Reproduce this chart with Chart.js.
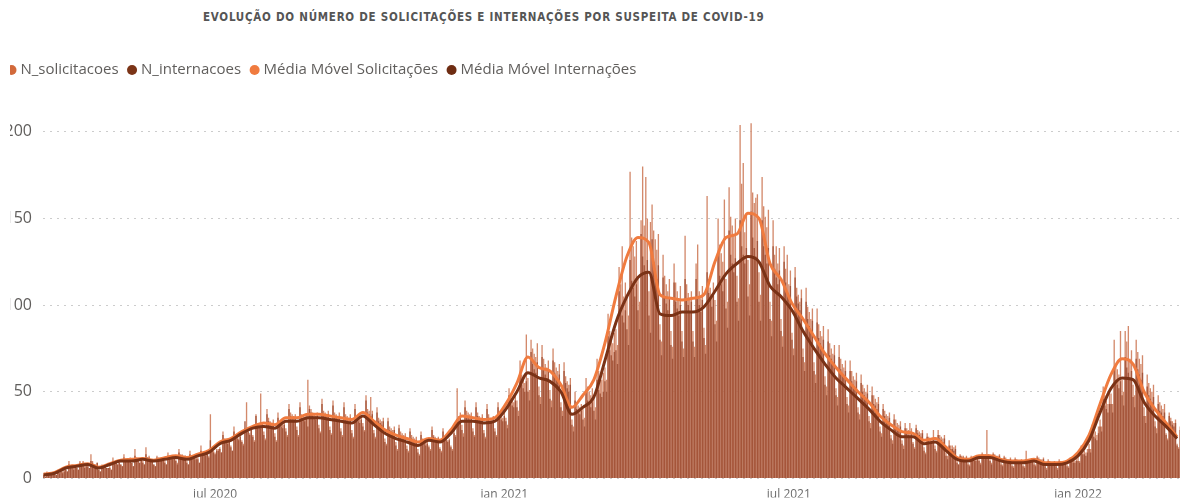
<!DOCTYPE html>
<html><head><meta charset="utf-8">
<script src="https://cdn.jsdelivr.net/npm/chart.js@4"></script>
<style>
html,body{margin:0;padding:0;background:#fff;overflow:hidden;width:1180px;height:499px}
#title{position:absolute;left:203px;top:11px;font-family:'DejaVu Sans Condensed','DejaVu Sans',sans-serif;font-weight:bold;font-size:11.5px;line-height:13px;letter-spacing:0.75px;color:#555;white-space:nowrap}
#wrap{position:absolute;left:-2px;top:0;width:1183px;height:499px}
#mask{position:absolute;left:0;top:40px;width:10px;height:420px;background:#fff}
</style></head><body>
<div id="title">EVOLUÇÃO DO NÚMERO DE SOLICITAÇÕES E INTERNAÇÕES POR SUSPEITA DE COVID-19</div>
<div id="wrap"><canvas id="c" width="1183" height="499"></canvas></div>
<div id="mask"></div>
<script>
// ---- data ----
const startDate = '2020-03-14';
const seriesNames = ['N_solicitacoes', 'N_internacoes', 'Média Móvel Solicitações', 'Média Móvel Internações'];
const tickDates = ['2020-07-01', '2021-01-01', '2021-07-01', '2022-01-01'];
const tickLabels = ['jul 2020', 'jan 2021', 'jul 2021', 'jan 2022'];
const yTicks = [0, 50, 100, 150, 200];

// daily requests (N_solicitacoes)
const nSolicitacoes = [
3,1,4,2,3,3,2, 3,2,5,3,4,4,5, 5,4,10,6,8,6,7, 6,5,10,8,10,7,7, 7,6,14,10,8,8,9, 5,4,8,7,7,6,6, 7,5,12,9,10,8,9,
8,7,14,11,11,10,12, 9,7,17,12,11,9,12, 10,8,18,12,13,11,11, 8,7,13,12,11,10,12, 10,8,15,13,13,12,13, 11,9,17,14,14,13,13, 10,8,16,13,13,12,12,
12,9,19,15,15,14,14, 13,37,18,16,15,17,17, 18,15,27,23,22,21,22, 19,16,30,25,24,23,25, 22,20,29,44,28,26,29, 25,22,37,32,31,49,32, 27,23,40,35,33,32,34,
26,22,38,33,32,31,33, 29,25,43,38,37,36,37, 30,25,44,37,36,35,37, 57,42,40,38,37,36,38, 31,27,46,39,38,37,39, 30,26,45,38,37,36,38, 29,25,44,37,36,35,37,
28,24,43,36,35,34,36, 32,28,48,40,39,47,39, 28,24,41,35,34,33,35, 23,20,35,30,29,28,30, 21,17,31,27,26,25,26, 19,16,29,25,24,23,24, 17,14,27,23,22,21,22,
19,17,30,25,24,23,24, 18,16,29,24,23,22,23, 19,17,28,25,52,36,38, 31,26,45,39,38,37,38, 29,25,44,38,36,35,37, 28,24,43,37,35,34,36, 29,25,44,38,36,35,38,
35,31,52,47,45,44,48, 45,39,68,60,57,55,83, 58,51,80,75,72,70,78, 53,47,77,69,66,64,68, 51,45,75,67,64,62,66, 44,39,67,59,56,54,58, 34,30,50,44,42,41,43,
40,35,58,53,50,48,52, 47,41,69,62,59,57,61, 64,57,95,85,82,78,84, 86,77,122,112,134,105,113, 105,94,177,139,134,128,137, 115,102,149,180,146,174,150, 108,148,158,143,138,132,141,
89,79,129,117,112,108,115, 85,76,124,113,108,104,111, 85,75,140,112,107,103,108, 85,76,124,135,108,104,111, 87,77,163,115,110,106,113, 103,91,150,135,130,125,161, 115,102,168,151,146,140,150,
117,104,204,170,182,142,152, 126,112,205,165,159,162,164, 119,106,174,157,151,145,155, 102,91,149,129,134,124,133, 92,82,134,121,129,112,120, 84,75,122,110,106,102,109, 75,67,110,99,96,92,98,
67,60,98,89,85,82,88, 59,53,86,78,75,72,77, 52,47,77,69,66,64,68, 47,42,68,62,59,57,61, 41,37,60,54,52,50,54, 36,32,53,48,46,44,47, 30,26,43,39,37,36,38,
25,22,37,34,32,31,33, 22,19,32,29,28,32,29, 21,18,31,28,27,26,28, 18,15,26,24,23,22,28, 19,16,28,25,24,23,25, 15,13,22,19,19,18,19, 10,8,14,13,13,12,13,
9,8,13,12,11,11,12, 11,9,15,14,14,28,14, 11,9,15,14,13,13,14, 9,8,13,12,11,11,12, 8,7,12,11,10,10,11, 8,7,16,11,10,10,11, 9,8,13,12,11,11,12,
8,6,11,10,9,9,10, 8,6,11,10,9,9,10, 8,7,12,11,10,10,11, 12,10,19,17,16,15,17, 20,17,31,28,27,25,30, 34,30,53,48,45,43,49, 49,43,80,66,63,60,85,
57,50,85,79,88,69,74, 54,48,80,73,69,66,71, 41,36,60,55,52,50,54, 33,29,48,44,42,40,43, 26,23,38,35,33,32,34, 20,18,30
];

// daily admissions (N_internacoes)
const nInternacoes = [
2,1,3,2,3,2,2, 2,2,4,3,4,3,4, 5,4,8,6,7,5,7, 6,5,9,8,9,6,7, 7,6,10,9,8,7,9, 5,4,7,6,7,6,6, 6,5,10,9,9,8,9,
8,7,12,11,10,10,11, 9,7,13,11,10,9,11, 9,8,14,12,12,11,11, 8,7,12,11,11,10,11, 9,8,13,12,12,11,12, 10,8,15,13,13,12,13, 9,8,14,12,12,11,11,
11,9,16,14,14,13,14, 12,22,17,15,14,16,16, 17,15,25,22,21,20,21, 18,16,27,24,23,22,24, 21,19,33,28,27,25,28, 24,21,36,31,30,29,31, 25,22,37,33,31,30,32,
24,21,35,31,30,29,31, 27,24,40,36,35,34,35, 28,24,41,35,34,33,35, 30,40,38,36,35,34,36, 29,26,43,37,36,35,37, 28,25,42,36,35,34,36, 27,24,41,35,34,33,35,
26,23,40,34,33,32,34, 30,27,45,38,37,36,37, 26,23,38,33,32,31,33, 21,19,33,28,27,26,28, 19,16,29,25,24,23,24, 17,15,27,23,22,21,22, 15,13,25,21,20,19,20,
18,16,28,24,23,22,23, 17,15,27,23,22,21,22, 18,16,26,24,34,32,35, 28,24,41,36,35,34,35, 27,24,41,36,34,33,35, 26,23,40,35,33,32,34, 27,24,41,36,34,33,36,
33,29,48,43,42,41,45, 41,36,61,54,52,50,56, 50,45,73,66,63,61,67, 48,43,70,63,60,58,62, 46,41,68,61,58,56,60, 41,36,62,55,52,50,54, 31,27,45,40,38,37,39,
34,30,50,45,43,41,44, 39,34,57,51,49,47,50, 56,50,82,74,71,68,73, 74,66,108,98,94,90,97, 86,77,126,114,110,105,112, 97,86,141,128,123,118,126, 94,84,138,125,120,115,123,
80,71,116,105,101,97,104, 77,69,113,102,98,94,100, 79,70,115,104,100,96,102, 79,70,115,104,100,96,103, 81,72,119,107,103,99,106, 89,79,130,117,112,108,116, 98,87,143,129,124,119,127,
102,91,149,134,129,124,133, 105,94,154,139,133,128,137, 102,91,149,134,129,124,133, 92,82,134,121,116,112,120, 85,76,125,113,108,104,111, 80,71,116,105,101,97,104, 70,62,102,92,88,85,91,
62,55,90,81,78,75,80, 54,48,79,71,69,66,71, 48,42,70,63,60,58,62, 43,38,62,56,54,52,56, 38,34,55,50,48,46,49, 33,29,48,43,42,40,43, 27,24,40,36,34,33,35,
23,20,34,30,29,28,30, 20,17,29,26,25,24,26, 20,17,29,26,25,24,26, 16,14,24,22,21,20,22, 17,15,25,23,22,21,23, 13,11,19,17,17,16,17, 9,8,13,12,12,11,12,
8,7,12,11,10,10,11, 10,8,14,13,13,12,13, 10,8,14,13,12,12,13, 8,7,12,11,10,10,11, 7,6,11,10,9,9,10, 7,6,11,10,9,9,10, 8,7,12,11,10,10,11,
7,5,10,9,8,8,9, 7,5,10,9,8,8,9, 7,6,11,10,9,9,10, 10,9,16,14,14,13,15, 17,15,27,24,23,22,26, 30,27,46,42,40,38,43, 43,38,63,57,54,52,56,
48,42,70,64,61,58,62, 47,41,69,63,60,57,61, 36,32,53,48,46,44,47, 30,26,43,39,38,36,38, 25,22,36,33,31,30,32, 19,17,28
];

// moving averages, one value per week (start of each week from startDate)
const mmSolicitacoes = [
2.5,3.5,6.5,7.5,8.5,6.5,8.5,10.5,11,11.5, 10.5,12,13,12,14,16,21,23,27,30,
32,31,35,35,37,37,36,35,34,38, 33,28,25,23,21,23,22,28,36,35,
34,35,43,55,70,64,62,54,41,48, 57,78,105,128,139,136,106,104,103,104,
106,125,139,141,153,150,124,115,101,92, 82,72,64,57,50,44,36,31,27,26,
22,23,18,12,11,13,13,11,10,10, 11,9,9,10,15,25,43,60,69,66, 50,40,32,24
];
const mmInternacoes = [
2,3,6,7,8,6,8,10,10,11, 10,11,12,11,13,15,20,22,26,29,
30,29,33,33,35,35,34,33,32,36, 31,26,23,21,19,22,21,26,33,33,
32,33,40,50,61,58,56,50,37,41, 47,68,90,105,116,119,95,94,96,96,
99,108,118,124,128,125,111,105,97,85, 75,66,58,52,46,40,33,28,24,24,
20,21,16,11,10,12,12,10,9,9, 10,8,8,9,13,22,38,52,58,57, 44,36,30,23
];

// ---- styles ----
const barColors = ['#d3896b', '#a4553a'];
const lineColors = ['#f07b3f', '#7a3216'];
const legendColors = ['#d2693a', '#7b3417', '#f07b3f', '#6e2c12'];

// ---- build ----
const t0 = new Date(startDate + 'T00:00:00Z').getTime();
const labels = nSolicitacoes.map((_, i) => new Date(t0 + i * 86400000).toISOString().slice(0, 10));
const weekly = arr => arr.map((v, k) => ({ x: labels[Math.min(7 * k, labels.length - 1)], y: v }));

const legendSpacer = {
  id: 'legendSpacer',
  beforeInit(chart) {
    const fit = chart.legend.fit;
    chart.legend.fit = function () { fit.call(this); this.height += 27; };
  }
};

new Chart(document.getElementById('c'), {
  data: {
    labels,
    datasets: [
      { type: 'bar', label: seriesNames[0], data: nSolicitacoes, backgroundColor: barColors[0], grouped: false, order: 3, barPercentage: 1, categoryPercentage: 0.85 },
      { type: 'bar', label: seriesNames[1], data: nInternacoes, backgroundColor: barColors[1], grouped: false, order: 2, barPercentage: 1, categoryPercentage: 0.85 },
      { type: 'line', label: seriesNames[2], data: weekly(mmSolicitacoes), borderColor: lineColors[0], backgroundColor: lineColors[0], borderWidth: 3, pointRadius: 0, cubicInterpolationMode: 'monotone', order: 1 },
      { type: 'line', label: seriesNames[3], data: weekly(mmInternacoes), borderColor: lineColors[1], backgroundColor: lineColors[1], borderWidth: 3, pointRadius: 0, cubicInterpolationMode: 'monotone', order: 0 }
    ]
  },
  options: {
    responsive: false,
    animation: false,
    devicePixelRatio: 1,
    layout: { padding: { top: 50.5, left: 0, right: 0, bottom: 0 } },
    plugins: {
      tooltip: { enabled: false },
      legend: {
        position: 'top', align: 'start',
        labels: {
          usePointStyle: true, boxWidth: 3, boxHeight: 7.07, padding: 12,
          color: '#605e5c', font: { family: 'Open Sans', size: 15 },
          sort: (a, b) => a.datasetIndex - b.datasetIndex,
          generateLabels(chart) {
            const items = Chart.defaults.plugins.legend.labels.generateLabels(chart);
            items.forEach(it => {
              it.fillStyle = legendColors[it.datasetIndex];
              it.strokeStyle = legendColors[it.datasetIndex];
              it.lineWidth = 0;
              it.pointStyle = 'circle';
            });
            return items;
          }
        }
      }
    },
    scales: {
      x: {
        type: 'category', offset: true,
        grid: { display: false }, border: { display: false },
        afterBuildTicks: s => { s.ticks = tickDates.map(d => ({ value: labels.indexOf(d) })); },
        ticks: {
          autoSkip: false, maxRotation: 0, padding: 1, color: '#6a6a6a',
          font: { family: 'Open Sans', size: 12 },
          callback: function (v) { return tickLabels[tickDates.indexOf(this.getLabelForValue(v))]; }
        },
        afterFit: s => { s.height = 19; }
      },
      y: {
        min: 0, max: 210,
        afterBuildTicks: s => { s.ticks = yTicks.map(v => ({ value: v })); },
        grid: { color: '#cccccc', lineWidth: 1, drawTicks: false },
        border: { display: false, dash: [2, 5] },
        ticks: { padding: 11, color: '#605e5c', font: { family: 'Open Sans', size: 16 }, callback: v => String(v) },
        afterFit: s => { s.width = 45; }
      }
    }
  },
  plugins: [legendSpacer]
});
</script>
</body></html>
